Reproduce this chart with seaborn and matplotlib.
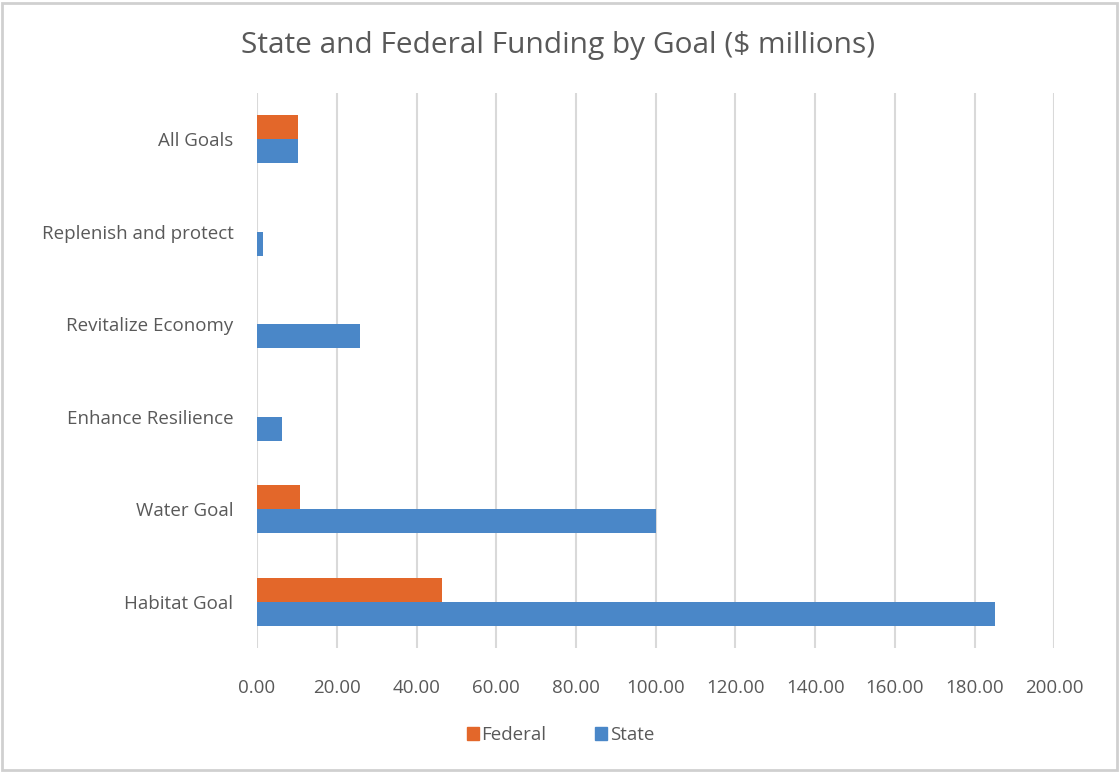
import matplotlib
matplotlib.use("Agg")
import matplotlib.pyplot as plt
import seaborn as sns
import pandas as pd
from matplotlib.ticker import FuncFormatter, MultipleLocator
from matplotlib.patches import Rectangle

goals = ["All Goals", "Replenish and protect", "Revitalize Economy",
         "Enhance Resilience", "Water Goal", "Habitat Goal"]
federal = [10.3, 0.0, 0.0, 0.0, 10.9, 46.3]
state = [10.3, 1.6, 25.7, 6.3, 100.0, 185.0]
series = ["Federal", "State"]
colors = {"Federal": "#E3672A", "State": "#4A87C8"}

df = pd.DataFrame({
    "Goal": goals * 2,
    "Funding": federal + state,
    "Source": ["Federal"] * len(goals) + ["State"] * len(goals),
})

sns.set_theme(style="white")
plt.rcParams["font.family"] = ["Open Sans", "DejaVu Sans"]

fig = plt.figure(figsize=(11.19, 7.72), dpi=100)
ax = fig.add_axes([0.2297, 0.1606, 0.7126, 0.7189])

sns.barplot(data=df, y="Goal", x="Funding", hue="Source", order=goals,
            hue_order=series, palette=colors, orient="h", width=0.52,
            gap=0, saturation=1, linewidth=0, ax=ax, legend=False)

ax.set_xlim(0, 200)
ax.set_ylim(len(goals) - 0.5, -0.5)
ax.xaxis.set_major_locator(MultipleLocator(20))
ax.xaxis.set_major_formatter(FuncFormatter(lambda v, p: f"{v:.2f}"))
ax.grid(axis="x", color="#D9D9D9", linewidth=1.5)
ax.grid(axis="y", visible=False)
ax.set_axisbelow(True)
for s in ax.spines.values():
    s.set_visible(False)
ax.set_xlabel("")
ax.set_ylabel("")
ax.tick_params(axis="both", length=0, colors="#595959", labelsize=13.5)
ax.tick_params(axis="y", pad=17)
ax.tick_params(axis="x", pad=22)
for lbl in ax.get_yticklabels():
    lbl.set_va("center_baseline")

fig.suptitle("State and Federal Funding by Goal ($ millions)", x=0.4987,
             y=0.96, fontsize=21.5, color="#595959")

handles = [Rectangle((0, 0), 1, 1, color=colors[s]) for s in series]
fig.legend(handles, series, loc="center", bbox_to_anchor=(0.501, 0.048),
           ncol=2, frameon=False, fontsize=13.5, handlelength=0.65,
           handleheight=0.65, handletextpad=0.15, columnspacing=2.6,
           labelcolor="#595959")

fig.patches.append(Rectangle((0.002, 0.002), 0.996, 0.994, transform=fig.transFigure,
                             fill=False, edgecolor="#D0D0D0", linewidth=2))

fig.savefig("out.png", dpi=100, facecolor="white")
